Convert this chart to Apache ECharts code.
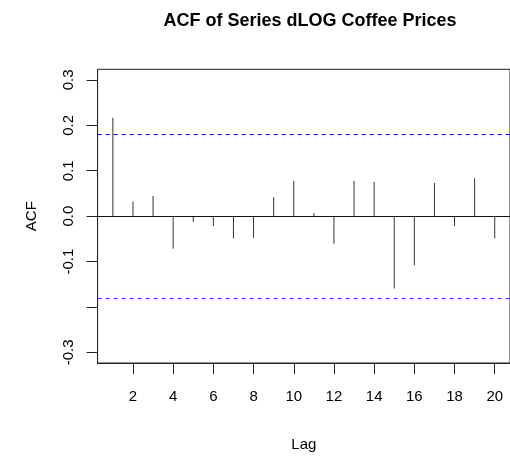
<!DOCTYPE html>
<html>
<head>
<meta charset="utf-8">
<script src="https://cdn.jsdelivr.net/npm/echarts@6/dist/echarts.min.js"></script>
<style>html,body{margin:0;padding:0;background:#fff;}#c{width:510px;height:457px;}</style>
</head>
<body>
<div id="c"></div>
<script>
var lags = [1,2,3,4,5,6,7,8,9,10,11,12,13,14,15,16,17,18,19,20];
var acfValues = [0.2165,0.0322,0.0446,-0.0717,-0.0125,-0.0219,-0.049,-0.0476,0.0417,0.0775,0.0066,-0.0607,0.0775,0.0753,-0.1594,-0.1082,0.0731,-0.0219,0.0834,-0.049];
var confLimit = 0.1795;
var xTicks = [2,4,6,8,10,12,14,16,18,20];
var yTicks = [-0.3,-0.2,-0.1,0.0,0.1,0.2,0.3];
var yLabels = [-0.3,-0.1,0.0,0.1,0.2,0.3];

var font = '"Liberation Sans", Arial, Helvetica, sans-serif';
var chart = echarts.init(document.getElementById('c'));
var spikeData = lags.map(function(l, i){ return [l, acfValues[i]]; });

chart.setOption({
  animation: false,
  backgroundColor: '#fff',
  title: {
    text: 'ACF of Series dLOG Coffee Prices',
    left: 305, top: 7, textAlign: 'center',
    textStyle: { fontFamily: font, fontWeight: 'bold', fontSize: 18, color: '#000' }
  },
  grid: {
    left: 97.6, top: 69.3, width: 415.4, height: 294.7,
    show: true, borderColor: '#222', borderWidth: 1, backgroundColor: 'transparent'
  },
  xAxis: [
    {
      type: 'value', min: 0.24, max: 20.76, position: 'bottom',
      name: 'Lag', nameLocation: 'middle', nameGap: 74,
      nameTextStyle: { fontFamily: font, fontSize: 15, color: '#000' },
      axisLine: { show: true, onZero: false, lineStyle: { color: '#222', width: 1 } },
      splitLine: { show: false },
      axisTick: { show: false },
      axisLabel: { customValues: xTicks, margin: 26, fontFamily: font, fontSize: 15, color: '#000' }
    },
    {
      type: 'value', min: 0.24, max: 20.76, position: 'bottom', offset: 11,
      axisLine: { show: false, onZero: false },
      splitLine: { show: false },
      axisLabel: { show: false },
      axisTick: { show: true, inside: true, length: 11, customValues: xTicks, lineStyle: { color: '#222' } }
    }
  ],
  yAxis: {
    type: 'value', min: -0.3233, max: 0.3233, position: 'left',
    name: 'ACF', nameLocation: 'middle', nameGap: 58,
    nameTextStyle: { fontFamily: font, fontSize: 15, color: '#000' },
    axisLine: { show: true, onZero: false, lineStyle: { color: '#222', width: 1 } },
    splitLine: { show: false },
    axisTick: { show: true, inside: false, length: 11, customValues: yTicks, lineStyle: { color: '#222' } },
    axisLabel: {
      customValues: yLabels, rotate: 90, margin: 21,
      fontFamily: font, fontSize: 15, color: '#000',
      formatter: function(v){ return v.toFixed(1); }
    }
  },
  series: [
    {
      type: 'custom',
      xAxisIndex: 0,
      data: spikeData,
      renderItem: function(params, api){
        var p0 = api.coord([api.value(0), 0]);
        var p1 = api.coord([api.value(0), api.value(1)]);
        return {
          type: 'line',
          shape: { x1: p0[0], y1: p0[1], x2: p1[0], y2: p1[1] },
          style: { stroke: '#333', lineWidth: 1 }
        };
      },
      z: 3
    },
    {
      type: 'line',
      xAxisIndex: 0,
      data: [],
      markLine: {
        silent: true, symbol: 'none', label: { show: false },
        data: [
          { yAxis: 0, lineStyle: { color: '#111', type: 'solid', width: 1 } },
          { yAxis: confLimit, lineStyle: { color: '#0000ee', type: [4, 4], width: 1 } },
          { yAxis: -confLimit, lineStyle: { color: '#3333ff', type: [4, 4], width: 1 } }
        ]
      }
    }
  ]
});
</script>
</body>
</html>
